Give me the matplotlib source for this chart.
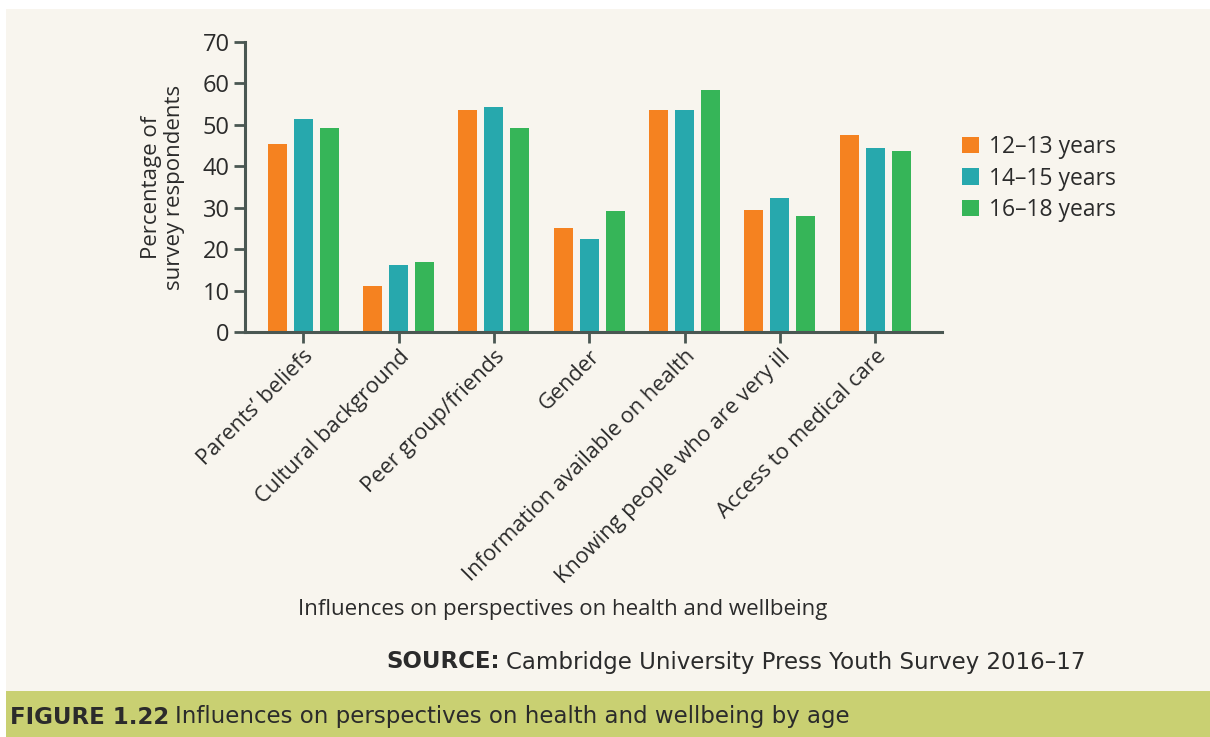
import numpy as np
import matplotlib
matplotlib.use('Agg')
import matplotlib.pyplot as plt
from matplotlib.patches import Rectangle

categories = ['Parents\u2019 beliefs', 'Cultural background', 'Peer group/friends', 'Gender',
              'Information available on health', 'Knowing people who are very ill',
              'Access to medical care']
ages = ['12\u201313 years', '14\u201315 years', '16\u201318 years']
age_12_13 = [45.3, 11.0, 53.5, 25.0, 53.5, 29.4, 47.5]
age_14_15 = [51.3, 16.1, 54.2, 22.4, 53.5, 32.3, 44.4]
age_16_18 = [49.2, 16.8, 49.2, 29.1, 58.3, 27.9, 43.6]
yticks = [0, 10, 20, 30, 40, 50, 60, 70]

colors = ['#F58220', '#27A8AD', '#36B558']
cream = '#F8F5EE'
band = '#C9D072'
axis_col = '#4A5752'
text_col = '#2B2B2B'
narrow = 'DejaVu Sans'

plt.rcParams['font.family'] = ['Open Sans', 'DejaVu Sans']

fig = plt.figure(figsize=(12.1, 7.37), dpi=100)
fig.patch.set_facecolor('white')

# cream panel and green caption band
fig.patches.append(Rectangle((6 / 1210, 0), 1 - 6 / 1210, 1 - 9 / 737,
                             transform=fig.transFigure, facecolor=cream, edgecolor='none', zorder=-2))
fig.patches.append(Rectangle((6 / 1210, 0), 1 - 6 / 1210, 46 / 737,
                             transform=fig.transFigure, facecolor=band, edgecolor='none', zorder=-1))

ax = fig.add_axes([245 / 1210, 1 - 332 / 737, (942 - 245) / 1210, (332 - 42) / 737])
ax.set_facecolor(cream)

x = np.arange(len(categories))
w = 0.2
pitch = 0.273
for i, (vals, lab) in enumerate(zip([age_12_13, age_14_15, age_16_18], ages)):
    ax.bar(x + (i - 1) * pitch, vals, width=w, color=colors[i], label=lab, zorder=2)

ax.set_xlim(-0.61, 6.70)
ax.set_ylim(0, 70)
ax.set_yticks(yticks)
ax.set_xticks(x)
ax.set_xticklabels(categories, rotation=45, ha='right', rotation_mode='anchor',
                   fontsize=15.7, color=text_col)
ax.tick_params(axis='y', labelsize=17, colors=axis_col, labelcolor=text_col,
               length=8, width=2, pad=3)
ax.tick_params(axis='x', colors=axis_col, labelcolor=text_col, length=8, width=2, pad=2)
for s in ['top', 'right']:
    ax.spines[s].set_visible(False)
for s in ['left', 'bottom']:
    ax.spines[s].set_color(axis_col)
    ax.spines[s].set_linewidth(2.2)

fig.text(163 / 1210, 1 - 187 / 737, 'Percentage of\nsurvey respondents', rotation=90,
         ha='center', va='center', fontsize=16, color=text_col, linespacing=1.15)
fig.text(563 / 1210, 1 - 610 / 737, 'Influences on perspectives on health and wellbeing',
         ha='center', va='center', fontsize=16, color=text_col)

leg = ax.legend(loc='upper left', bbox_to_anchor=(962 / 1210, 1 - 135 / 737),
                bbox_transform=fig.transFigure, frameon=False, fontsize=16.5,
                handlelength=0.72, handleheight=0.72, handletextpad=0.45, labelspacing=0.33,
                borderaxespad=0, borderpad=0)
for t in leg.get_texts():
    t.set_color(text_col)

src = fig.text(1085 / 1210, 1 - 662 / 737, 'Cambridge University Press Youth Survey 2016\u201317',
               ha='right', va='center', fontsize=16.5, color=text_col, family=narrow)
fig.canvas.draw()
bb = src.get_window_extent()
fig.text(bb.x0 - 6, bb.y0 + bb.height / 2, 'SOURCE:', transform=None, ha='right', va='center',
         fontsize=16.5, fontweight='bold', color=text_col, family=narrow)

cap = fig.text(10 / 1210, 1 - 717 / 737, 'FIGURE 1.22', ha='left', va='center', fontsize=16.5,
               fontweight='bold', color=text_col, family=narrow)
fig.canvas.draw()
cb = cap.get_window_extent()
fig.text(cb.x1 + 6, cb.y0 + cb.height / 2, 'Influences on perspectives on health and wellbeing by age',
         transform=None, ha='left', va='center', fontsize=16.5, color=text_col, family=narrow)

fig.savefig('out.png', dpi=100, facecolor=fig.get_facecolor())
